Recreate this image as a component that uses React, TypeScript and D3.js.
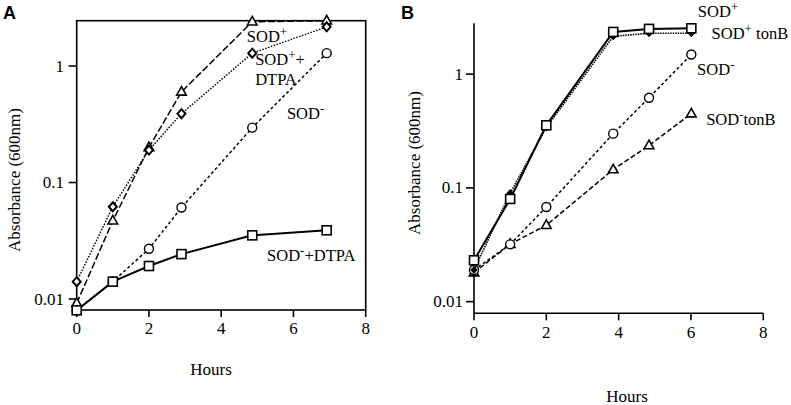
import React from "react";
import * as d3 from "d3";

// ---------- Data ----------
// Panel A
const hoursA = [0, 1, 2, 2.9, 4.86, 6.92];
const sodPlusA = [0.0092, 0.047, 0.2, 0.6, 2.4, 2.45];
const sodPlusDtpaA = [0.0141, 0.062, 0.19, 0.39, 1.29, 2.17];
const sodMinusA = [0.008, 0.0141, 0.027, 0.061, 0.296, 1.29];
const sodMinusDtpaA = [0.008, 0.0141, 0.0192, 0.0243, 0.0352, 0.0389];

// Panel B
const hoursB = [0, 1, 2, 3.85, 4.84, 6.01];
const sodPlusB = [0.0231, 0.08, 0.355, 2.35, 2.5, 2.53];
const sodPlusTonBB = [0.019, 0.09, 0.34, 2.15, 2.29, 2.29];
const sodMinusB = [0.019, 0.0319, 0.068, 0.3, 0.62, 1.49];
const sodMinusTonBB = [0.018, 0.032, 0.047, 0.145, 0.236, 0.45];

const xTicks = [0, 2, 4, 6, 8];
const yTicks = [0.01, 0.1, 1];
const yTickLabels = ["0.01", "0.1", "1"];

// ---------- Layout ----------
const W = 791;
const H = 405;
const FONT = "'Liberation Serif', 'Times New Roman', Times, serif";
const FS = 17;
const serif = { fontFamily: FONT };

type Marker = "square" | "circle" | "triangle" | "diamond" | "diamondFilled";

function MarkerShape({ type, x, y }: { type: Marker; x: number; y: number }) {
  const s = 4.5;
  if (type === "square")
    return <rect x={x - s} y={y - s} width={2 * s} height={2 * s} fill="white" stroke="black" strokeWidth={1.6} />;
  if (type === "circle") return <circle cx={x} cy={y} r={4.5} fill="white" stroke="black" strokeWidth={1.4} />;
  if (type === "triangle") {
    const h = 8.5;
    return (
      <path
        d={`M${x},${y - h * 0.62} L${x + 4.8},${y + h * 0.38} L${x - 4.8},${y + h * 0.38} Z`}
        fill="white"
        stroke="black"
        strokeWidth={1.6}
      />
    );
  }
  if (type === "diamond")
    return (
      <path d={`M${x},${y - 4.5} L${x + 4},${y} L${x},${y + 4.5} L${x - 4},${y} Z`} fill="white" stroke="black" strokeWidth={2} />
    );
  return <path d={`M${x},${y - 3.5} L${x + 3.2},${y} L${x},${y + 3.5} L${x - 3.2},${y} Z`} fill="black" stroke="black" strokeWidth={1} />;
}

interface Series {
  xs: number[];
  ys: number[];
  marker: Marker;
  dash?: string;
  width: number;
}

function SeriesPlot({ s, x, y }: { s: Series; x: d3.ScaleLinear<number, number>; y: d3.ScaleLogarithmic<number, number> }) {
  const pts: [number, number][] = s.xs.map((h, i) => [x(h), y(s.ys[i])]);
  const line = d3.line()(pts) || "";
  return (
    <g>
      <path d={line} fill="none" stroke="black" strokeWidth={s.width} strokeDasharray={s.dash} />
      {pts.map((p, i) => (
        <MarkerShape key={i} type={s.marker} x={p[0]} y={p[1]} />
      ))}
    </g>
  );
}

function Label({ x, y, parts }: { x: number; y: number; parts: { t: string; sup?: boolean }[] }) {
  return (
    <text x={x} y={y} style={serif} fontSize={16.5} fill="black">
      {parts.map((p, i) => {
        const prevSup = i > 0 && parts[i - 1].sup;
        const dy = p.sup ? -6 : prevSup ? 6 : 0;
        return (
          <tspan key={i} dy={dy} fontSize={p.sup ? 13 : 16.5}>
            {p.t}
          </tspan>
        );
      })}
    </text>
  );
}

function Axes({
  x,
  y,
  box,
  yTickX,
  xTickY,
}: {
  x: d3.ScaleLinear<number, number>;
  y: d3.ScaleLogarithmic<number, number>;
  box: boolean;
  yTickX: number;
  xTickY: number;
}) {
  const [x0, x1] = x.range();
  const [y0, y1] = y.range();
  return (
    <g>
      {box ? (
        <rect x={x0} y={y1} width={x1 - x0} height={y0 - y1} fill="none" stroke="black" strokeWidth={1.6} />
      ) : (
        <path d={`M${x0},${y1} L${x0},${y0} L${x1},${y0}`} fill="none" stroke="black" strokeWidth={1.6} />
      )}
      {xTicks.map((t) => (
        <g key={t}>
          <line x1={x(t)} x2={x(t)} y1={y0} y2={y0 + 7} stroke="black" strokeWidth={1.6} />
          <text x={x(t)} y={xTickY} textAnchor="middle" style={serif} fontSize={FS}>
            {t}
          </text>
        </g>
      ))}
      {yTicks.map((t, i) => (
        <g key={t}>
          <line x1={x0 - 8} x2={x0} y1={y(t)} y2={y(t)} stroke="black" strokeWidth={1.6} />
          <text x={yTickX} y={y(t) + 5.5} textAnchor="end" style={serif} fontSize={FS}>
            {yTickLabels[i]}
          </text>
        </g>
      ))}
    </g>
  );
}

export default function App() {
  // Panel A scales
  const xA = d3.scaleLinear().domain([0, 8]).range([76.7, 365.7]);
  const yA = d3.scaleLog().domain([0.00805, 2.45]).range([310, 20.7]);
  // Panel B scales
  const xB = d3.scaleLinear().domain([0, 8]).range([474, 763.3]);
  const yB = d3.scaleLog().domain([0.0079, 2.8]).range([313.3, 23.3]);

  const seriesA: Series[] = [
    { xs: hoursA, ys: sodMinusA, marker: "circle", dash: "3,2.5", width: 1.5 },
    { xs: hoursA, ys: sodPlusA, marker: "triangle", dash: "7,2.5", width: 1.5 },
    { xs: hoursA, ys: sodPlusDtpaA, marker: "diamond", dash: "1.5,1.5", width: 1.5 },
    { xs: hoursA, ys: sodMinusDtpaA, marker: "square", width: 2 },
  ];
  const seriesB: Series[] = [
    { xs: hoursB, ys: sodMinusTonBB, marker: "triangle", dash: "5,2.5", width: 1.5 },
    { xs: hoursB, ys: sodMinusB, marker: "circle", dash: "3,2.5", width: 1.5 },
    { xs: hoursB, ys: sodPlusTonBB, marker: "diamondFilled", dash: "1.5,1", width: 1.6 },
    { xs: hoursB, ys: sodPlusB, marker: "square", width: 2 },
  ];

  return (
    <svg width={W} height={H} style={{ position: "absolute", left: 0, top: 0, background: "white" }}>
      <rect width={W} height={H} fill="white" />
      {/* Panel A */}
      <text x={3} y={19} style={{ fontFamily: "'Liberation Sans', Arial, sans-serif" }} fontWeight="bold" fontSize={18}>
        A
      </text>
      <Axes x={xA} y={yA} box={true} yTickX={64} xTickY={334} />
      {seriesA.map((s, i) => (
        <SeriesPlot key={i} s={s} x={xA} y={yA} />
      ))}
      <Label x={xA(4.71)} y={yA(1.61)} parts={[{ t: "SOD" }, { t: "+", sup: true }]} />
      <Label x={xA(4.94)} y={yA(1.02)} parts={[{ t: "SOD" }, { t: "+", sup: true }, { t: "+" }]} />
      <Label x={xA(4.94)} y={yA(0.687)} parts={[{ t: "DTPA" }]} />
      <Label x={xA(5.82)} y={yA(0.351)} parts={[{ t: "SOD" }, { t: "-", sup: true }]} />
      <Label x={xA(5.27)} y={yA(0.0212)} parts={[{ t: "SOD" }, { t: "-", sup: true }, { t: "+DTPA" }]} />
      <text x={211} y={375} textAnchor="middle" style={serif} fontSize={FS}>
        Hours
      </text>
      <text transform={`translate(20,180) rotate(-90)`} textAnchor="middle" style={serif} fontSize={FS}>
        Absorbance (600nm)
      </text>

      {/* Panel B */}
      <text x={401} y={19} style={{ fontFamily: "'Liberation Sans', Arial, sans-serif" }} fontWeight="bold" fontSize={18}>
        B
      </text>
      <Axes x={xB} y={yB} box={false} yTickX={463} xTickY={338} />
      {seriesB.map((s, i) => (
        <SeriesPlot key={i} s={s} x={xB} y={yB} />
      ))}
      <Label x={xB(6.19)} y={yB(3.16)} parts={[{ t: "SOD" }, { t: "+", sup: true }]} />
      <Label x={xB(6.57)} y={yB(2.03)} parts={[{ t: "SOD" }, { t: "+", sup: true }, { t: " tonB" }]} />
      <Label x={xB(6.17)} y={yB(0.98)} parts={[{ t: "SOD" }, { t: "-", sup: true }]} />
      <Label x={xB(6.42)} y={yB(0.357)} parts={[{ t: "SOD" }, { t: "-", sup: true }, { t: "tonB" }]} />
      <text x={627} y={402} textAnchor="middle" style={serif} fontSize={FS}>
        Hours
      </text>
      <text transform={`translate(420,163) rotate(-90)`} textAnchor="middle" style={serif} fontSize={FS}>
        Absorbance (600nm)
      </text>
    </svg>
  );
}
